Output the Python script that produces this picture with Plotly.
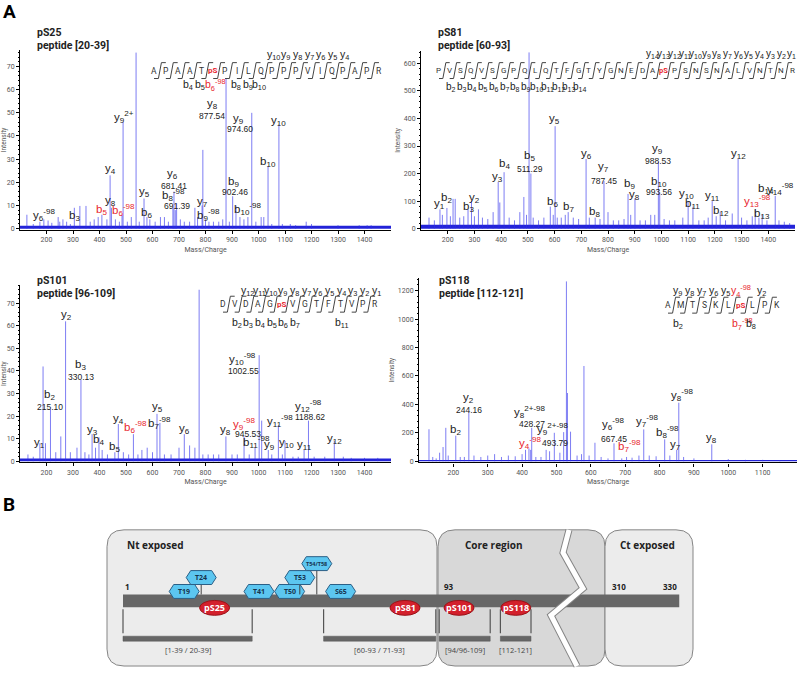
import plotly.graph_objects as go

W, H = 800, 673

# --------------------------------------------------------------------------- #
# Panel A data: MS/MS spectra, (m/z, intensity)
# --------------------------------------------------------------------------- #
PS25_PEAKS = [
    (126, 6), (150, 2), (175, 3), (190, 4), (206, 3.5), (220, 2.5), (244, 5), (250, 3),
    (262, 4), (276, 3), (290, 2), (305, 9), (326, 9.8), (349, 9.8), (365, 3), (380, 4),
    (395, 5), (409, 6), (428, 4), (440, 23), (445, 9), (460, 4), (475, 3), (485, 6),
    (489, 46), (505, 3), (520, 5), (538, 76), (550, 3), (568, 13), (579, 5), (590, 4),
    (610, 3), (630, 5), (645, 5), (660, 3), (677, 9), (681, 16), (686, 8), (691, 11),
    (705, 4), (720, 3), (740, 3), (760, 9), (770, 5), (787, 10), (790, 34), (800, 4),
    (813, 3), (830, 3), (850, 3), (865, 4), (877.5, 65), (890, 3), (902.5, 14), (915, 10),
    (930, 5), (945, 4), (960, 5), (974.6, 50), (990, 3), (1010, 5), (1020, 5), (1036, 27),
    (1050, 2), (1077, 45), (1090, 2), (1120, 2), (1140, 1.5), (1180, 3), (1200, 2),
    (1300, 1.5), (1380, 1.5), (1410, 1.5), (1425, 1.5),
]
PS81_PEAKS = [
    (130, 40), (150, 30), (171, 70), (180, 50), (197, 75), (210, 45), (220, 108), (228, 108),
    (245, 40), (260, 45), (276, 70), (289, 100), (300, 45), (315, 70), (330, 40), (350, 35),
    (370, 60), (389, 170), (395, 95), (411, 205), (430, 40), (450, 30), (470, 60), (485, 115),
    (495, 50), (504.5, 640), (511.3, 200), (520, 40), (540, 30), (560, 40), (584, 80),
    (595, 50), (602, 372), (610, 40), (625, 40), (640, 50), (651, 60), (670, 40), (690, 35),
    (718, 253), (730, 40), (752, 40), (770, 35), (785, 173), (800, 60), (820, 30), (840, 30),
    (860, 35), (875, 126), (885, 50), (901, 110), (920, 30), (940, 30), (960, 50), (975, 50),
    (988.5, 242), (993.6, 130), (1010, 35), (1030, 30), (1050, 30), (1080, 40), (1100, 100),
    (1118, 80), (1140, 30), (1160, 30), (1175, 40), (1190, 100), (1205, 45), (1220, 60),
    (1240, 30), (1265, 55), (1287, 253), (1300, 40), (1320, 30), (1340, 45), (1351, 70),
    (1365, 40), (1377, 50), (1395, 30), (1426, 119), (1440, 30), (1460, 25), (1480, 20),
]
PS101_PEAKS = [
    (130, 3), (150, 2), (175, 8), (187, 42), (196, 8), (215, 23), (235, 4), (254, 11),
    (272, 62), (290, 4), (315, 6), (330, 36), (345, 4), (360, 3), (372, 12), (385, 6),
    (398, 10.6), (410, 5), (430, 3), (458, 4), (471, 16.5), (490, 4), (510, 3), (528, 12),
    (545, 3), (560, 5), (580, 6), (600, 4), (617, 21), (628, 17), (645, 3), (670, 3),
    (700, 6), (720, 12), (740, 7), (760, 6), (776, 76), (790, 3), (810, 3), (830, 3),
    (850, 3), (877, 11), (900, 3), (920, 3), (945.5, 11), (965, 3), (987, 6), (1002.5, 47),
    (1012, 18), (1037, 5), (1050, 3), (1075, 16), (1090, 3), (1100, 9), (1130, 2), (1150, 2),
    (1172, 5), (1188.6, 18), (1210, 2), (1250, 2), (1286, 9), (1320, 2), (1350, 1.5),
    (1400, 1.5), (1450, 1.5),
]
PS118_PEAKS = [
    (129, 225), (140, 30), (150, 20), (160, 60), (170, 100), (178, 235), (185, 40), (207, 180),
    (220, 30), (232, 30), (245, 343), (260, 40), (280, 30), (300, 40), (320, 50), (340, 30),
    (360, 40), (380, 35), (400, 50), (410, 80), (420, 90), (425, 80), (428, 235), (440, 30),
    (455, 30), (470, 80), (480, 70), (493.8, 200), (510, 60), (521, 205), (529, 1265),
    (532, 480), (541, 208), (560, 40), (573, 50), (580, 670), (595, 40), (612, 130), (630, 30),
    (650, 20), (667.5, 126), (690, 20), (704, 30), (720, 25), (740, 40), (754, 224), (770, 40),
    (790, 35), (815, 154), (830, 40), (850, 80), (856, 412), (870, 30), (900, 20), (952, 119),
    (1000, 15), (1050, 10), (1100, 10), (1150, 8),
]

# dense low-level noise under every spectrum (intensity units)
NOISE_FLOOR = {"pS25": 1.2, "pS81": 14, "pS101": 1.2, "pS118": 9}

# annotated fragment ions: (ion, index, superscript, m/z, label height, red?)
PS25_IONS = [
    ("y", 10, "2+", 541, 78.5, False), ("y", 9, "2+", 492, 48, False),
    ("y", 8, "", 825, 54, False), ("y", 9, "", 926, 47.5, False),
    ("y", 10, "", 1077, 46.4, False), ("b", 10, "", 1036, 28.8, False),
    ("y", 4, "", 443, 25.8, False), ("y", 8, "", 440, 12, False),
    ("b", 5, "", 409, 8.2, True), ("b", 6, "-98", 489, 8.2, True),
    ("y", 5, "", 568, 16, False), ("b", 6, "", 579, 6.9, False),
    ("y", 6, "", 677, 23.6, False), ("b", 8, "-98", 681, 14.6, False),
    ("y", 7, "", 787, 11.6, False), ("b", 9, "-98", 813, 6, False),
    ("b", 9, "", 904, 20, False), ("b", 10, "-98", 960, 8.6, False),
    ("y", 6, "-98", 191, 6, False), ("b", 3, "", 304, 5.6, False),
]
PS25_MASSES = [("877.54", 825, 48.5), ("974.60", 930, 43), ("681.41", 681, 18.5),
               ("691.39", 691, 9.9), ("902.46", 911, 15.9)]

PS81_IONS = [
    ("y", 4, "", 501, 668, False), ("y", 5, "", 598, 397, False), ("y", 6, "", 718, 271, False),
    ("y", 7, "", 785, 224, False), ("y", 9, "", 984, 289, False), ("b", 10, "", 991, 170, False),
    ("y", 12, "", 1287, 271, False), ("b", 5, "", 508, 263, False), ("b", 4, "", 411, 235, False),
    ("y", 3, "", 385, 188, False), ("y", 1, "", 171, 90, False), ("b", 2, "", 197, 112, False),
    ("b", 3, "", 276, 79, False), ("y", 2, "", 302, 112, False), ("b", 6, "", 594, 97, False),
    ("b", 7, "", 651, 79, False), ("b", 8, "", 748, 61, False), ("b", 9, "", 879, 162, False),
    ("y", 8, "", 901, 123, False), ("y", 10, "", 1093, 126, False), ("b", 11, "", 1115, 90, False),
    ("y", 11, "", 1190, 119, False), ("b", 12, "", 1224, 65, False),
    ("y", 13, "-98", 1358, 101, True), ("b", 13, "", 1377, 54, False),
    ("b", 14, "", 1392, 144, False), ("y", 14, "-98", 1445, 144, False),
]
PS81_MASSES = [("787.45", 785, 173), ("988.53", 988, 245), ("993.56", 991, 134),
               ("511.29", 508, 217)]

PS101_IONS = [
    ("y", 7, "", 779, 80.6, False), ("y", 2, "", 277, 65, False), ("b", 2, "", 213, 29.5, False),
    ("b", 3, "", 330, 42.7, False), ("y", 10, "-98", 941, 45.4, False),
    ("y", 12, "-98", 1187, 24.7, False), ("y", 11, "-98", 1081, 18, False),
    ("y", 5, "", 617, 24, False), ("b", 7, "-98", 628, 17, False), ("y", 4, "", 470, 18.5, False),
    ("b", 6, "-98", 534, 15, True), ("y", 6, "", 719, 14.5, False), ("y", 8, "", 877, 13.7, False),
    ("y", 9, "-98", 945, 16.7, True), ("b", 11, "-98", 994, 8.4, False), ("y", 9, "", 1043, 7, False),
    ("y", 10, "", 1104, 8, False), ("y", 11, "", 1172, 7, False), ("y", 12, "", 1285, 9.7, False),
    ("y", 1, "", 175, 8, False), ("y", 3, "", 372, 13.7, False), ("b", 4, "", 398, 9.3, False),
    ("b", 5, "", 458, 6.2, False),
]
PS101_MASSES = [("215.10", 213, 24.2), ("330.13", 330, 37.4), ("1002.55", 945, 40),
                ("1188.62", 1194, 19.8), ("945.53", 960, 11.9)]

PS118_IONS = [
    ("y", 2, "", 245, 448, False), ("b", 2, "", 207, 217, False),
    ("y", 8, "2+-98", 423, 343, False), ("y", 9, "2+-98", 490, 224, False),
    ("y", 4, "-98", 423, 126, True), ("y", 6, "-98", 664, 259, False),
    ("y", 7, "-98", 763, 280, False), ("b", 8, "-98", 824, 203, False),
    ("b", 7, "-98", 713, 105, True), ("y", 7, "", 847, 112, False),
    ("y", 8, "-98", 865, 469, False), ("y", 8, "", 952, 161, False),
]
PS118_MASSES = [("244.16", 245, 357), ("428.27", 428, 259), ("493.79", 495, 126),
                ("667.45", 667, 154)]

# peptide sequences and the fragment ions marked on them
PS25_SEQ = "A P A A T pS P I L Q P P P V I Q P A P R".split()
PS25_SEQ_IONS = ["y10", "y9", "y8", "y7", "y6", "y5", "y4",
                 "b4", "b5", "b6-98", "b8", "b9", "b10"]
PS81_SEQ = "P V S Q V S G P Q L Q T F G T Y G N E D A pS P S N S N A L V N T N R".split()
PS81_SEQ_IONS = ["y14", "y13", "y12", "y11", "y10", "y9", "y8", "y7", "y6", "y5", "y4", "y3",
                 "y2", "y1", "b2", "b3", "b4", "b5", "b6", "b7", "b8", "b9", "b10", "b11",
                 "b12", "b13", "b14"]
PS101_SEQ = "D V D A G pS V G T F T V P R".split()
PS101_SEQ_IONS = ["y12", "y11", "y10", "y9", "y8", "y7", "y6", "y5", "y4", "y3", "y2", "y1",
                  "b2", "b3", "b4", "b5", "b6", "b7", "b11"]
PS118_SEQ = "A M T S K L pS L P K".split()
PS118_SEQ_IONS = ["y9", "y8", "y7", "y6", "y5", "y4-98", "y2", "b2", "b7-98", "b8"]
RED_SEQ_IONS = {"b6-98", "y4-98", "b7-98"}

X_TICKS_WIDE = [200, 300, 400, 500, 600, 700, 800, 900, 1000, 1100, 1200, 1300, 1400]
X_TICKS_SHORT = [200, 300, 400, 500, 600, 700, 800, 900, 1000, 1100]

# --------------------------------------------------------------------------- #
# Panel B data: protein map
# --------------------------------------------------------------------------- #
PROTEIN_LENGTH = 330
SEGMENTS = ["Nt exposed", "Core region", "Ct exposed"]
POSITION_MARKS = [1, 93, 310, 330]
OTHER_SITES = ["T19", "T24", "T41", "T50", "T53", "T54/T58", "S65"]
OTHER_SITE_RES = [19, 24, 41, 50, 53, 58, 65]
PHOSPHO_SITES = ["pS25", "pS81", "pS101", "pS118"]
PHOSPHO_RES = [25, 81, 101, 118]
PEPTIDES = ["[1-39 / 20-39]", "[60-93 / 71-93]", "[94/96-109]", "[112-121]"]
PEPTIDE_START = [1, 60, 94, 112]
PEPTIDE_END = [39, 93, 109, 121]

# --------------------------------------------------------------------------- #
# styling / layout
# --------------------------------------------------------------------------- #
INK = "#222222"
RED = "#e8262d"
STEM = "rgba(45,45,235,0.62)"
NOISE = "#2323d8"
TICK_FONT = dict(family="Roboto, Arial", size=7, color="#555555")
ION_FONT = "Liberation Sans, Arial"

PANELS = {
    "pS25": dict(n=1, peaks=PS25_PEAKS, ions=PS25_IONS, masses=PS25_MASSES, px=(20, 391),
                 xr=[100, 1500], y0=230, ys=2.33, yr=[-0.4, 77], dtick=10, minor=2,
                 xt=X_TICKS_WIDE, title=(35, "pS25", "peptide [20-39]")),
    "pS81": dict(n=2, peaks=PS81_PEAKS, ions=PS81_IONS, masses=PS81_MASSES, px=(421, 795),
                 xr=[100, 1500], y0=230, ys=0.277, yr=[-4, 645], dtick=100, minor=20,
                 xt=X_TICKS_WIDE, title=(436, "pS81", "peptide [60-93]")),
    "pS101": dict(n=3, peaks=PS101_PEAKS, ions=PS101_IONS, masses=PS101_MASSES, px=(20, 391),
                  xr=[100, 1500], y0=464, ys=2.27, yr=[-0.4, 78], dtick=10, minor=2,
                  xt=X_TICKS_WIDE, title=(35, "pS101", "peptide [96-109]")),
    "pS118": dict(n=4, peaks=PS118_PEAKS, ions=PS118_IONS, masses=PS118_MASSES, px=(419, 797),
                  xr=[100, 1200], y0=464, ys=0.143, yr=[-8, 1290], dtick=200, minor=40,
                  xt=X_TICKS_SHORT, title=(437, "pS118", "peptide [112-121]")),
}

SEQ_LAYOUT = {
    "pS25": dict(seq=PS25_SEQ, ions=PS25_SEQ_IONS, x0=154, dx=11.84, y=71, ylab=55, blab=86,
                 yoff=7, boff=-7, fs=8.5, lfs=10.5),
    "pS81": dict(seq=PS81_SEQ, ions=PS81_SEQ_IONS, x0=439, dx=10.7, y=71, ylab=54, blab=88,
                 yoff=5, boff=-4, fs=8, lfs=10),
    "pS101": dict(seq=PS101_SEQ, ions=PS101_SEQ_IONS, x0=223, dx=11.7, y=306, ylab=293, blab=325,
                  yoff=7, boff=-4, fs=8.5, lfs=10.5),
    "pS118": dict(seq=PS118_SEQ, ions=PS118_SEQ_IONS, x0=668, dx=12.1, y=307, ylab=293, blab=326,
                  yoff=3, boff=-8, fs=8.5, lfs=10.5),
}


def paper(x, y):
    return x / W, 1 - y / H


def ion(kind, n, sup=""):
    s = f"{kind}<sub>{n}</sub>"
    if sup:
        s += f"<sup>{sup}</sup>"
    return s


def stems(peaks):
    xs, ys = [], []
    for mz, it in peaks:
        xs += [mz, mz, None]
        ys += [0, it, None]
    return xs, ys


fig = go.Figure()
layout = dict(width=W, height=H, margin=dict(l=0, r=0, t=0, b=0),
              paper_bgcolor="white", plot_bgcolor="rgba(0,0,0,0)", showlegend=False)
annotations = []
shapes = []


def note(x, y, text, size, color=INK, xanchor="center", family=ION_FONT, **kw):
    px_, py_ = paper(x, y)
    annotations.append(dict(x=px_, y=py_, xref="paper", yref="paper", text=text,
                            showarrow=False, xanchor=xanchor, yanchor="middle",
                            font=dict(family=family, size=size, color=color), **kw))


# ----------------------------- spectra ------------------------------------- #
for key, p in PANELS.items():
    n = p["n"]
    xa, ya = f"x{n}", f"y{n}"
    x0, x1 = p["px"]
    bot = p["y0"] - p["yr"][0] * p["ys"]
    top = p["y0"] - p["yr"][1] * p["ys"]
    layout[f"xaxis{n}"] = dict(
        domain=[x0 / W, x1 / W], range=p["xr"], anchor=ya, showgrid=False, zeroline=False,
        showline=True, linecolor="black", linewidth=1.3, ticks="outside", ticklen=3,
        tickcolor="black", tickvals=p["xt"], tickfont=TICK_FONT, fixedrange=True,
        title=dict(text="Mass/Charge", font=TICK_FONT, standoff=3),
    )
    layout[f"yaxis{n}"] = dict(
        domain=[1 - bot / H, 1 - top / H], range=p["yr"], anchor=xa, showgrid=False,
        zeroline=False, showline=True, linecolor="black", linewidth=1, ticks="outside",
        ticklen=3, tickcolor="black", dtick=p["dtick"], tick0=0, tickfont=TICK_FONT,
        fixedrange=True,
        minor=dict(dtick=p["minor"], ticks="outside", ticklen=1.5, tickcolor="black"),
        title=dict(text="Intensity", font=dict(family="Roboto, Arial", size=6.5, color="#555"),
                   standoff=2),
    )
    fig.add_trace(go.Scatter(x=[p["xr"][0], p["xr"][1]], y=[NOISE_FLOOR[key]] * 2,
                             mode="lines", line=dict(width=0), fill="tozeroy",
                             fillcolor=NOISE, xaxis=xa, yaxis=ya, hoverinfo="skip"))
    sx, sy = stems(p["peaks"])
    fig.add_trace(go.Scatter(x=sx, y=sy, mode="lines", line=dict(color=STEM, width=1),
                             xaxis=xa, yaxis=ya, hoverinfo="skip"))

    for kind, idx, sup, mz, h, red in p["ions"]:
        annotations.append(dict(x=mz, y=h, xref=xa, yref=ya, text=ion(kind, idx, sup),
                                showarrow=False, font=dict(family=ION_FONT, size=11.5,
                                                           color=RED if red else INK)))
    for txt, mz, h in p["masses"]:
        annotations.append(dict(x=mz, y=h, xref=xa, yref=ya, text=txt, showarrow=False,
                                font=dict(family=ION_FONT, size=8.5, color=INK)))

    tx, t1, t2 = p["title"]
    ty = 33 if n <= 2 else 282
    note(tx, ty, f"<b>{t1}</b>", 10.5, xanchor="left", family="Roboto, Arial")
    note(tx, ty + 13, f"<b>{t2}</b>", 10.5, xanchor="left", family="Roboto, Arial")

    # sequence with fragmentation marks
    s = SEQ_LAYOUT[key]
    seq = s["seq"]
    for i, aa in enumerate(seq):
        x = s["x0"] + i * s["dx"]
        if aa == "pS":
            note(x, s["y"], "<b>pS</b>", s["fs"] - 0.5, color=RED, family="Roboto, Arial")
        else:
            note(x, s["y"], aa, s["fs"], color="#333333", family="Roboto, Arial")
    half = s["dx"] * 0.5
    for i in range(len(seq) - 1):
        g = s["x0"] + (i + 0.5) * s["dx"]
        ytop, ybot = s["y"] - 8, s["y"] + 8
        pts = [(g - half, ybot), (g - 1.5, ybot), (g + 1.5, ytop), (g + half, ytop)]
        path = "M " + " L ".join(f"{a / W:.5f},{1 - b / H:.5f}" for a, b in pts)
        shapes.append(dict(type="path", path=path, xref="paper", yref="paper",
                           line=dict(color="#444444", width=1)))
    for lab in s["ions"]:
        kind = lab[0]
        num, _, mod = lab[1:].partition("-")
        num = int(num)
        wide = 3.5 if mod else 0
        if kind == "y":
            g = s["x0"] + (len(seq) - num - 0.5) * s["dx"]
            x, y = g + s["yoff"] + wide, s["ylab"]
        else:
            g = s["x0"] + (num - 0.5) * s["dx"]
            x, y = g + s["boff"] + wide, s["blab"]
        txt = ion(kind, num, "-" + mod if mod else "")
        note(x, y, txt, s["lfs"], color=RED if lab in RED_SEQ_IONS else INK)

note(9, 12, "<b>A</b>", 19, family="Roboto, Arial", color="black")
note(9, 508, "<b>B</b>", 19, family="Roboto, Arial", color="black")

# ----------------------------- panel B ------------------------------------- #
RES_PX0, RES_PX = 123, 3.4        # residue 1 sits at x=123 px, 3.4 px per residue
BAR_TOP, BAR_BOT = 598, 611
BOX_TOP, BOX_BOT = 533, 670
CT_START, CT_SHOWN, CT_SCALE = 310, 146, 0.93


def shown(r):
    return r if r < 200 else CT_SHOWN + (r - CT_START) * CT_SCALE


layout["xaxis5"] = dict(domain=[0, 1], anchor="y5", visible=False, fixedrange=True,
                        range=[1 - RES_PX0 / RES_PX, 1 + (W - RES_PX0) / RES_PX])
layout["yaxis5"] = dict(domain=[0, 1], anchor="x5", visible=False, fixedrange=True,
                        range=[H, 0])


def rounded_box(x0, x1, fill, r=17):
    pts = (f"M {x0},{BOX_BOT - r} L {x0},{BOX_TOP + r} Q {x0},{BOX_TOP} {x0 + r},{BOX_TOP} "
           f"L {x1 - r},{BOX_TOP} Q {x1},{BOX_TOP} {x1},{BOX_TOP + r} L {x1},{BOX_BOT - r} "
           f"Q {x1},{BOX_BOT} {x1 - r},{BOX_BOT} L {x0 + r},{BOX_BOT} Q {x0},{BOX_BOT} "
           f"{x0},{BOX_BOT - r} Z")
    out = []
    for tok in pts.split():
        if "," in tok:
            a, b = tok.split(",")
            out.append(f"{float(a) / W:.5f},{1 - float(b) / H:.5f}")
        else:
            out.append(tok)
    shapes.append(dict(type="path", path=" ".join(out), xref="paper", yref="paper",
                       fillcolor=fill, line=dict(color="#858585", width=1), layer="above"))


BOXES = {"Nt exposed": (107, 437, "#ececec", 125, "left"),
         "Core region": (438, 605, "#d8d8d8", 494, "center"),
         "Ct exposed": (605, 693, "#ececec", 647, "center")}
for name in SEGMENTS:
    x0, x1, fill, tx, anc = BOXES[name]
    rounded_box(x0, x1, fill)
    note(tx, 548, f"<b>{name}</b>", 10, family="Open Sans, Arial", xanchor=anc)

# protein bar
shapes.append(dict(type="rect", xref="x5", yref="y5", x0=shown(1), x1=shown(PROTEIN_LENGTH),
                   y0=BAR_TOP, y1=BAR_BOT, fillcolor="#676767", line=dict(width=0),
                   layer="above"))
# break in the sequence
ZIG = [(569, 533), (563, 556), (583, 592), (551, 619), (577, 670)]
zpath = "M " + " L ".join(f"{a / W:.5f},{1 - b / H:.5f}" for a, b in ZIG)
shapes.append(dict(type="path", path=zpath, xref="paper", yref="paper",
                   line=dict(color="#858585", width=7), layer="above"))
shapes.append(dict(type="path", path=zpath, xref="paper", yref="paper",
                   line=dict(color="white", width=5), layer="above"))

MARK_SHIFT = {1: 0, 93: 6, 310: -6, 330: 0}
for r in POSITION_MARKS:
    anc = "right" if r == PROTEIN_LENGTH else "left"
    annotations.append(dict(x=shown(r), y=590, xref="x5", yref="y5", text=f"<b>{r}</b>",
                            showarrow=False, xanchor=anc, xshift=MARK_SHIFT[r],
                            font=dict(family="Open Sans, Arial", size=8, color=INK)))

# other (non-detected) phosphosites as hexagons
HEX_ROW = {"T19": 0, "T24": 1, "T41": 0, "T50": 0, "T53": 1, "T54/T58": 2, "S65": 0}
hw, sl, hh = 15 / RES_PX, 4.5 / RES_PX, 7
for name, r in zip(OTHER_SITES, OTHER_SITE_RES):
    yc = 595 - 14 * HEX_ROW[name]
    if HEX_ROW[name] > 0:
        shapes.append(dict(type="line", xref="x5", yref="y5", x0=r, x1=r, y0=yc + hh,
                           y1=BAR_TOP, line=dict(color="#444444", width=1), layer="above"))
    pts = [(r - hw, yc), (r - hw + sl, yc - hh), (r + hw - sl, yc - hh), (r + hw, yc),
           (r + hw - sl, yc + hh), (r - hw + sl, yc + hh)]
    path = "M " + " L ".join(f"{a:.3f},{b:.2f}" for a, b in pts) + " Z"
    shapes.append(dict(type="path", path=path, xref="x5", yref="y5", fillcolor="#5cc6f0",
                       line=dict(color="#2b5f86", width=1), layer="above"))
    annotations.append(dict(x=r, y=yc, xref="x5", yref="y5", text=f"<b>{name}</b>",
                            showarrow=False,
                            font=dict(family="Open Sans, Arial",
                                      size=5.5 if "/" in name else 7, color="#17344f")))

# detected phosphosites as red ellipses
ELLIPSE_NUDGE = {"pS25": 10, "pS81": 10, "pS101": -4, "pS118": -5}
for name, r in zip(PHOSPHO_SITES, PHOSPHO_RES):
    xc = r + ELLIPSE_NUDGE[name] / RES_PX
    shapes.append(dict(type="circle", xref="x5", yref="y5", x0=xc - 15 / RES_PX,
                       x1=xc + 15 / RES_PX, y0=604, y1=619, fillcolor="#d3202c",
                       line=dict(color="#9a1218", width=1), layer="above"))
    annotations.append(dict(x=xc, y=611.5, xref="x5", yref="y5", text=f"<b>{name}</b>",
                            showarrow=False,
                            font=dict(family="Open Sans, Arial", size=9, color="white")))

# identified peptides
for lab, a, b in zip(PEPTIDES, PEPTIDE_START, PEPTIDE_END):
    for r in (a, b):
        shapes.append(dict(type="line", xref="x5", yref="y5", x0=r, x1=r, y0=613, y1=637,
                           line=dict(color="#555555", width=1.2), layer="above"))
    shapes.append(dict(type="rect", xref="x5", yref="y5", x0=a, x1=b, y0=640, y1=645,
                       fillcolor="#676767", line=dict(color="#555555", width=0.5),
                       layer="above"))
    annotations.append(dict(x=(a + b) / 2, y=654, xref="x5", yref="y5", text=lab,
                            showarrow=False,
                            font=dict(family="Open Sans, Arial", size=7.5, color="#444444")))

layout["annotations"] = annotations
layout["shapes"] = shapes
fig.update_layout(**layout)
fig.write_html("out.html", config={"displayModeBar": False},
               post_script="document.body.style.margin='0';")
